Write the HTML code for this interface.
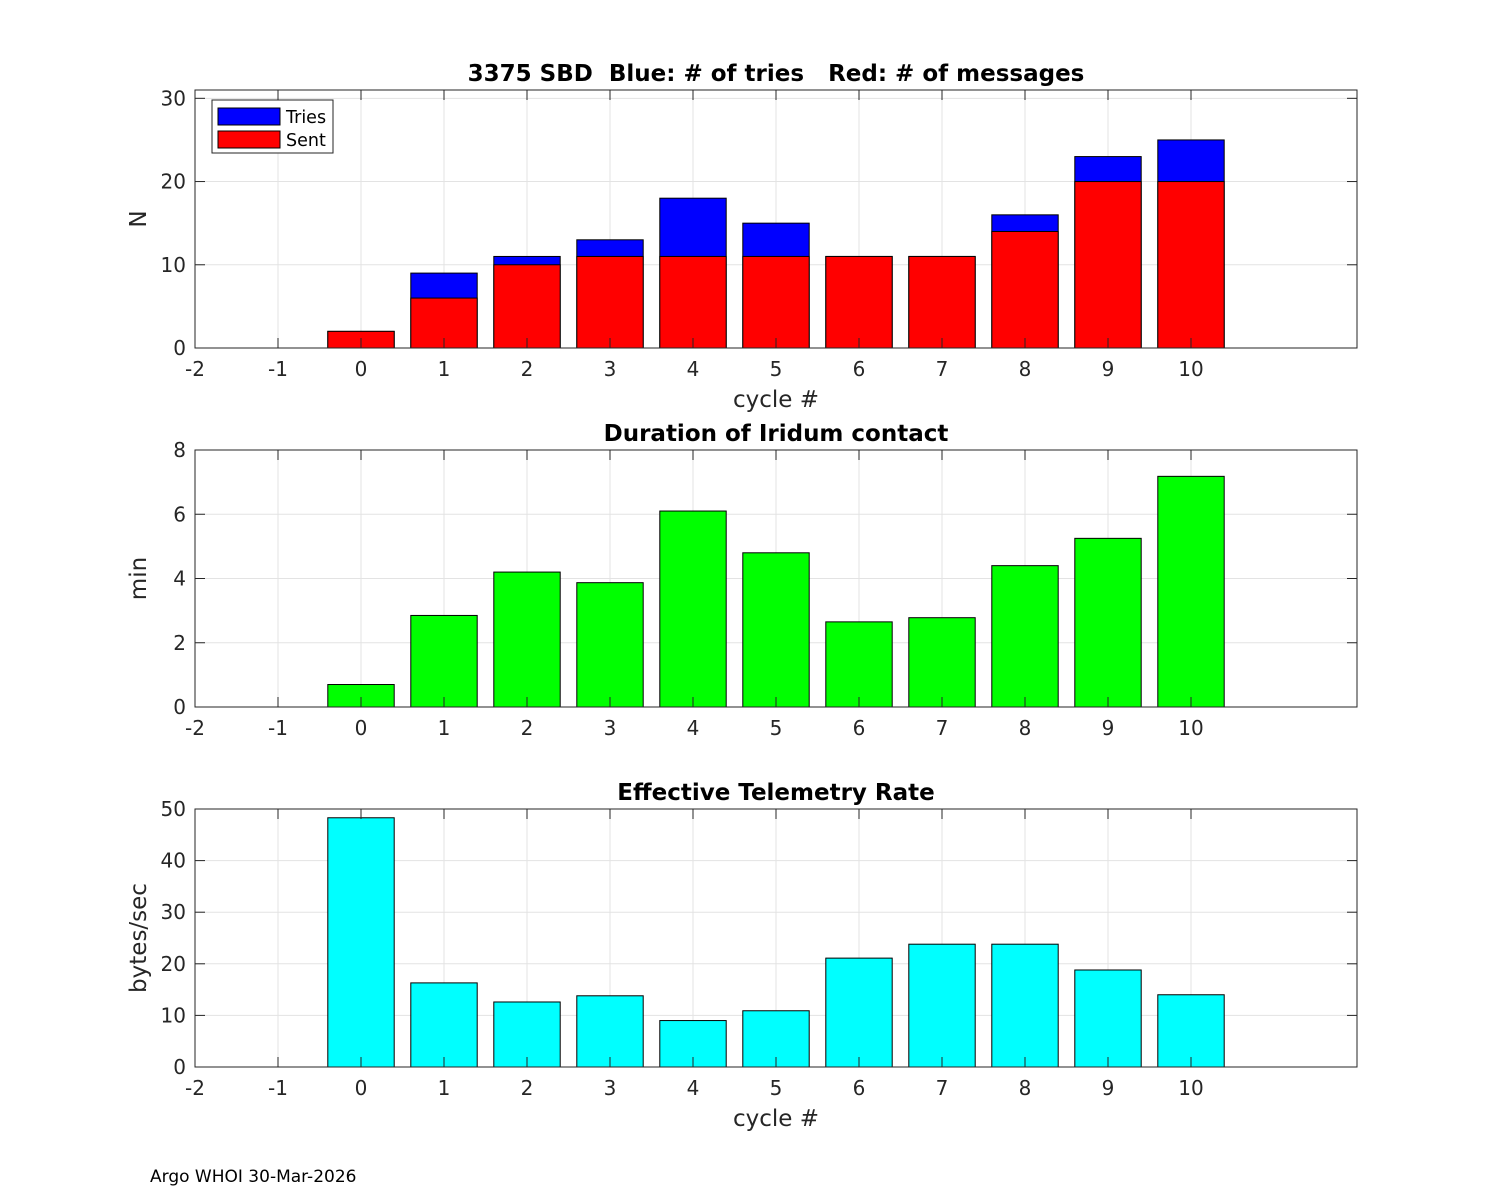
<!DOCTYPE html>
<html><head><meta charset="utf-8"><style>
body{margin:0;background:#fff;}
svg{display:block;font-family:"DejaVu Sans","Liberation Sans",sans-serif;}
text{white-space:pre;}
</style></head><body>
<svg id="fig" width="1500" height="1200" viewBox="0 0 1500 1200" xmlns="http://www.w3.org/2000/svg" xml:space="preserve">
<rect width="1500" height="1200" fill="#fff"/>
<text x="150" y="1182" font-size="17" fill="#000">Argo WHOI 30-Mar-2026</text>
</svg>
<script>
const cycles = [0,1,2,3,4,5,6,7,8,9,10];
const tries = [2,9,11,13,18,15,11,11,16,23,25];
const sent = [2,6,10,11,11,11,11,11,14,20,20];
const duration = [0.7,2.85,4.2,3.87,6.1,4.8,2.65,2.78,4.4,5.25,7.18];
const rate = [48.3,16.3,12.6,13.8,9.0,10.9,21.1,23.8,23.8,18.8,14.0];
const xTicks = [-2,-1,0,1,2,3,4,5,6,7,8,9,10];
const yTicks1 = [0,10,20,30];
const yTicks2 = [0,2,4,6,8];
const yTicks3 = [0,10,20,30,40,50];

const NS="http://www.w3.org/2000/svg";
const svg=document.getElementById('fig');
function mk(tag,attrs,parent){const e=document.createElementNS(NS,tag);for(const k in attrs)e.setAttribute(k,attrs[k]);(parent||svg).appendChild(e);return e;}
const X0=195,X1=1357,XMIN=-2,XMAX=12;
function xs(v){return X0+(v-XMIN)/(XMAX-XMIN)*(X1-X0);}

function panel(name,top,bot,ymax,yTicks,title,ylabel,xlabel){
  const g=mk('g',{});
  
  
  const ys=v=>bot-v/ymax*(bot-top);
  mk('rect',{x:X0,y:top,width:X1-X0,height:bot-top,fill:'#fff'},g);
  xTicks.forEach(t=>{const l=mk('line',{x1:xs(t),x2:xs(t),y1:top,y2:bot,stroke:'#e3e3e3','stroke-width':1},g);
    });
  yTicks.forEach(t=>{const l=mk('line',{x1:X0,x2:X1,y1:ys(t),y2:ys(t),stroke:'#e3e3e3','stroke-width':1},g);
    });
  return {g,ys,finish:function(){
    mk('rect',{x:X0,y:top,width:X1-X0,height:bot-top,fill:'none',stroke:'#262626','stroke-width':1},g);
    xTicks.forEach(t=>{mk('line',{x1:xs(t),x2:xs(t),y1:bot,y2:bot-10,stroke:'#262626'},g);mk('line',{x1:xs(t),x2:xs(t),y1:top,y2:top+10,stroke:'#262626'},g);
      const tx=mk('text',{x:xs(t),y:bot+28,'font-size':20,'text-anchor':'middle',fill:'#262626'},g);tx.textContent=t;
      });
    yTicks.forEach(t=>{mk('line',{x1:X0,x2:X0+10,y1:ys(t),y2:ys(t),stroke:'#262626'},g);mk('line',{x1:X1,x2:X1-10,y1:ys(t),y2:ys(t),stroke:'#262626'},g);
      const tx=mk('text',{x:X0-9,y:ys(t)+7,'font-size':20,'text-anchor':'end',fill:'#262626'},g);tx.textContent=t;
      });
    const tt=mk('text',{x:(X0+X1)/2,y:top-9,'font-size':23,'font-weight':'bold','text-anchor':'middle',fill:'#000'},g);tt.textContent=title;
    
    const yl=mk('text',{x:0,y:0,'font-size':23,'text-anchor':'middle',fill:'#262626',transform:`translate(${X0-49},${(top+bot)/2}) rotate(-90)`},g);yl.textContent=ylabel;
    
    if(xlabel){const xl=mk('text',{x:(X0+X1)/2,y:bot+59,'font-size':23,'text-anchor':'middle',fill:'#262626'},g);xl.textContent=xlabel;
      }
  }};
}
function bars(p,vals,color,nm){
  const w=0.8*(xs(1)-xs(0));
  vals.forEach((v,i)=>{const r=mk('rect',{x:xs(cycles[i])-w/2,y:p.ys(v),width:w,height:p.ys(0)-p.ys(v),fill:color,stroke:'#000','stroke-width':1},p.g);
    });
}
const p1=panel('sbd-panel',90,348,31,yTicks1,'3375 SBD  Blue: # of tries   Red: # of messages','N','cycle #');
bars(p1,tries,'#0000ff','tries');bars(p1,sent,'#ff0000','sent');p1.finish();
const lg=mk('g',{});
mk('rect',{x:212,y:100,width:121,height:53,fill:'#fff',stroke:'#262626'},lg);
mk('rect',{x:218,y:108,width:62,height:17,fill:'#0000ff',stroke:'#000'},lg);
mk('rect',{x:218,y:131,width:62,height:17,fill:'#ff0000',stroke:'#000'},lg);
let t=mk('text',{x:286,y:123,'font-size':17.5,fill:'#000'},lg);t.textContent='Tries';
t=mk('text',{x:286,y:146,'font-size':17.5,fill:'#000'},lg);t.textContent='Sent';
const p2=panel('duration-panel',450,707,8,yTicks2,'Duration of Iridum contact','min',null);
bars(p2,duration,'#00ff00','duration');p2.finish();
const p3=panel('rate-panel',809,1067,50,yTicks3,'Effective Telemetry Rate','bytes/sec','cycle #');
bars(p3,rate,'#00ffff','rate');p3.finish();
</script>
</body></html>
